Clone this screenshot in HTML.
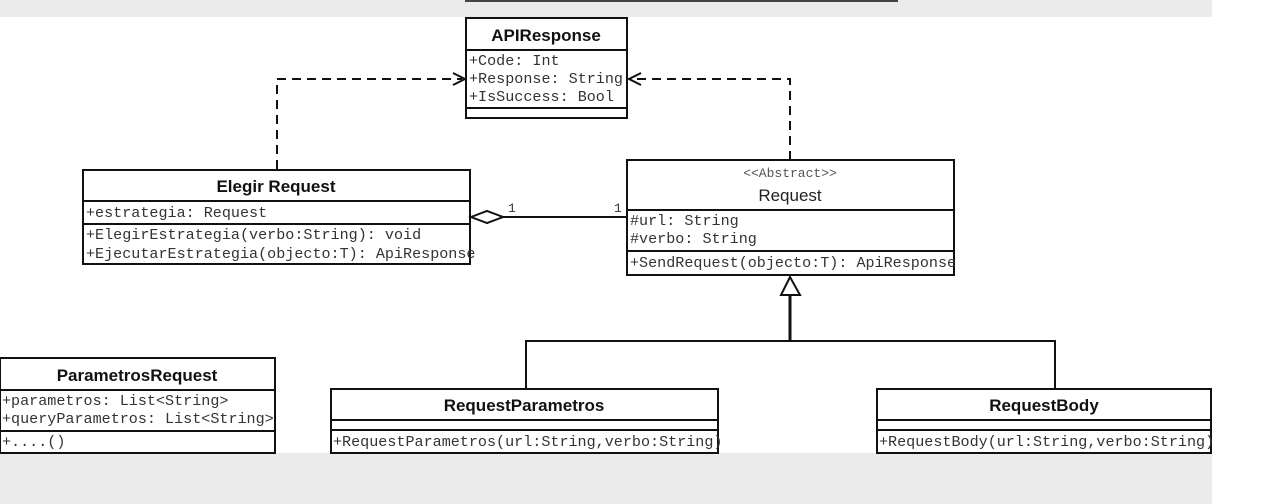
<!DOCTYPE html>
<html><head><meta charset="utf-8"><style>
html,body{margin:0;padding:0;background:#fff;}
svg{display:block}
.t{font-family:"Liberation Sans",sans-serif;font-weight:bold;font-size:17px;fill:#111;text-anchor:middle}
.m{font-family:"Liberation Mono",monospace;font-size:15.1px;fill:#333}
</style></head><body>
<svg width="1265" height="504" viewBox="0 0 1265 504" xmlns="http://www.w3.org/2000/svg">
<rect x="0" y="0" width="1212" height="17" fill="#ebebeb"/>
<rect x="465" y="0" width="433" height="2" fill="#444"/>
<rect x="0" y="453" width="1212" height="51" fill="#ebebeb"/>
<g fill="none" stroke="#111" stroke-width="2">
<rect x="466" y="18" width="161" height="100"/>
<line x1="466" y1="50" x2="627" y2="50"/><line x1="466" y1="108" x2="627" y2="108"/>
<rect x="83" y="170" width="387" height="94"/>
<line x1="83" y1="201" x2="470" y2="201"/><line x1="83" y1="224" x2="470" y2="224"/>
<rect x="627" y="160" width="327" height="115"/>
<line x1="627" y1="210" x2="954" y2="210"/><line x1="627" y1="251" x2="954" y2="251"/>
<rect x="0" y="358" width="275" height="95"/>
<line x1="0" y1="390" x2="275" y2="390"/><line x1="0" y1="431" x2="275" y2="431"/>
<rect x="331" y="389" width="387" height="64"/>
<line x1="331" y1="420" x2="718" y2="420"/><line x1="331" y1="430" x2="718" y2="430"/>
<rect x="877" y="389" width="334" height="64"/>
<line x1="877" y1="420" x2="1211" y2="420"/><line x1="877" y1="430" x2="1211" y2="430"/>
<polyline points="277,169 277,79 462,79" stroke-dasharray="9,6"/>
<polyline points="453,73 465,79 453,85"/>
<polyline points="790,160 790,79 632,79" stroke-dasharray="9,6"/>
<polyline points="641,73 629,79 641,85"/>
<polygon points="471,217 487,211 503,217 487,223" fill="#fff"/>
<line x1="503" y1="217" x2="627" y2="217"/>
<polygon points="790,277 781,295 800,295" fill="#fff"/>
<line x1="790" y1="295" x2="790" y2="341" stroke-width="3"/>
<polyline points="526,389 526,341 1055,341 1055,389"/>
</g>
<text class="t" x="546" y="41">APIResponse</text>
<text class="m" x="469" y="65">+Code: Int</text>
<text class="m" x="469" y="83">+Response: String</text>
<text class="m" x="469" y="101">+IsSuccess: Bool</text>
<text class="t" x="276" y="192">Elegir Request</text>
<text class="m" x="86" y="217">+estrategia: Request</text>
<text class="m" x="86" y="239">+ElegirEstrategia(verbo:String): void</text>
<text class="m" x="86" y="258">+EjecutarEstrategia(objecto:T): ApiResponse</text>
<text class="m" x="508" y="212" style="font-size:13px">1</text>
<text class="m" x="614" y="212" style="font-size:13px">1</text>
<text class="m" x="790" y="177" text-anchor="middle" style="font-size:13px;fill:#555">&lt;&lt;Abstract&gt;&gt;</text>
<text x="790" y="201" text-anchor="middle" style="font-family:'Liberation Sans',sans-serif;font-size:17px;fill:#222">Request</text>
<text class="m" x="630" y="225">#url: String</text>
<text class="m" x="630" y="243">#verbo: String</text>
<text class="m" x="630" y="267">+SendRequest(objecto:T): ApiResponse</text>
<text class="t" x="137" y="381">ParametrosRequest</text>
<text class="m" x="2" y="405">+parametros: List&lt;String&gt;</text>
<text class="m" x="2" y="423">+queryParametros: List&lt;String&gt;</text>
<text class="m" x="2" y="446">+....()</text>
<text class="t" x="524" y="411">RequestParametros</text>
<text class="m" x="333" y="446">+RequestParametros(url:String,verbo:String)</text>
<text class="t" x="1044" y="411">RequestBody</text>
<text class="m" x="879" y="446">+RequestBody(url:String,verbo:String)</text>
</svg>
</body></html>
